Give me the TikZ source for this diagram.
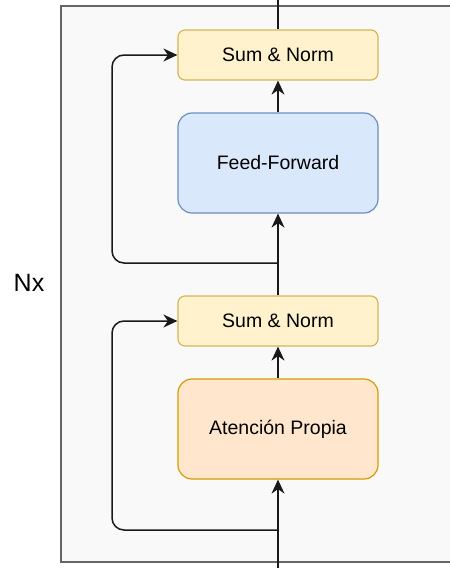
\documentclass[tikz,border=0pt]{standalone}
\usepackage{fontspec}
\setmainfont{Liberation Sans}
\usetikzlibrary{arrows.meta}
\definecolor{frameFill}{HTML}{F9F9F9}
\definecolor{frameLine}{HTML}{666666}
\definecolor{yelFill}{HTML}{FFF2CC}
\definecolor{yelLine}{HTML}{D6B656}
\definecolor{bluFill}{HTML}{DAE8FC}
\definecolor{bluLine}{HTML}{6C8EBF}
\definecolor{orgFill}{HTML}{FFE6CC}
\definecolor{orgLine}{HTML}{D79B00}
\tikzset{
  block/.style={draw, line width=1.2pt, minimum width=200pt, align=center,
    font=\fontsize{19.5}{22}\selectfont, inner sep=0pt},
  normbox/.style={block, fill=yelFill, draw=yelLine, minimum height=50pt, rounded corners=7pt},
  bigbox/.style={block, minimum height=100pt, rounded corners=14pt},
  link/.style={line width=1.5pt, draw=black!90},
  arr/.style={link, -{Stealth[length=14pt,width=13pt,inset=4.5pt]}},
}
\begin{document}
\begin{tikzpicture}[x=1pt,y=-1pt]
  \useasboundingbox (0,0) rectangle (450,568);
  % encoder layer frame
  \draw[fill=frameFill, draw=frameLine, line width=1.5pt] (61,6) rectangle (470,562);
  \node[font=\fontsize{25}{28}\selectfont] (nx) at (29,283) {Nx};

  % blocks
  \node[normbox] (sn2) at (278,55) {Sum \& Norm};
  \node[bigbox, fill=bluFill, draw=bluLine] (ff) at (278,163) {Feed-Forward};
  \node[normbox] (sn1) at (278,321) {Sum \& Norm};
  \node[bigbox, fill=orgFill, draw=orgLine] (att) at (278,429) {Atención Propia};

  % entry / exit points and branch points
  \coordinate (in) at (278,572);
  \coordinate (out) at (278,-4);
  \coordinate (br1) at (278,530);
  \coordinate (br2) at (278,263);

  % main path
  \draw[arr] (in) -- (att.south);
  \draw[arr] (att.north) -- (sn1.south);
  \draw[arr] (sn1.north) -- (ff.south);
  \draw[arr] (ff.north) -- (sn2.south);
  \draw[link] (sn2.north) -- (out);

  % residual connections
  \draw[arr, rounded corners=12pt] (br1) -| (112,321) -- (sn1.west);
  \draw[arr, rounded corners=12pt] (br2) -| (112,55) -- (sn2.west);
\end{tikzpicture}
\end{document}
